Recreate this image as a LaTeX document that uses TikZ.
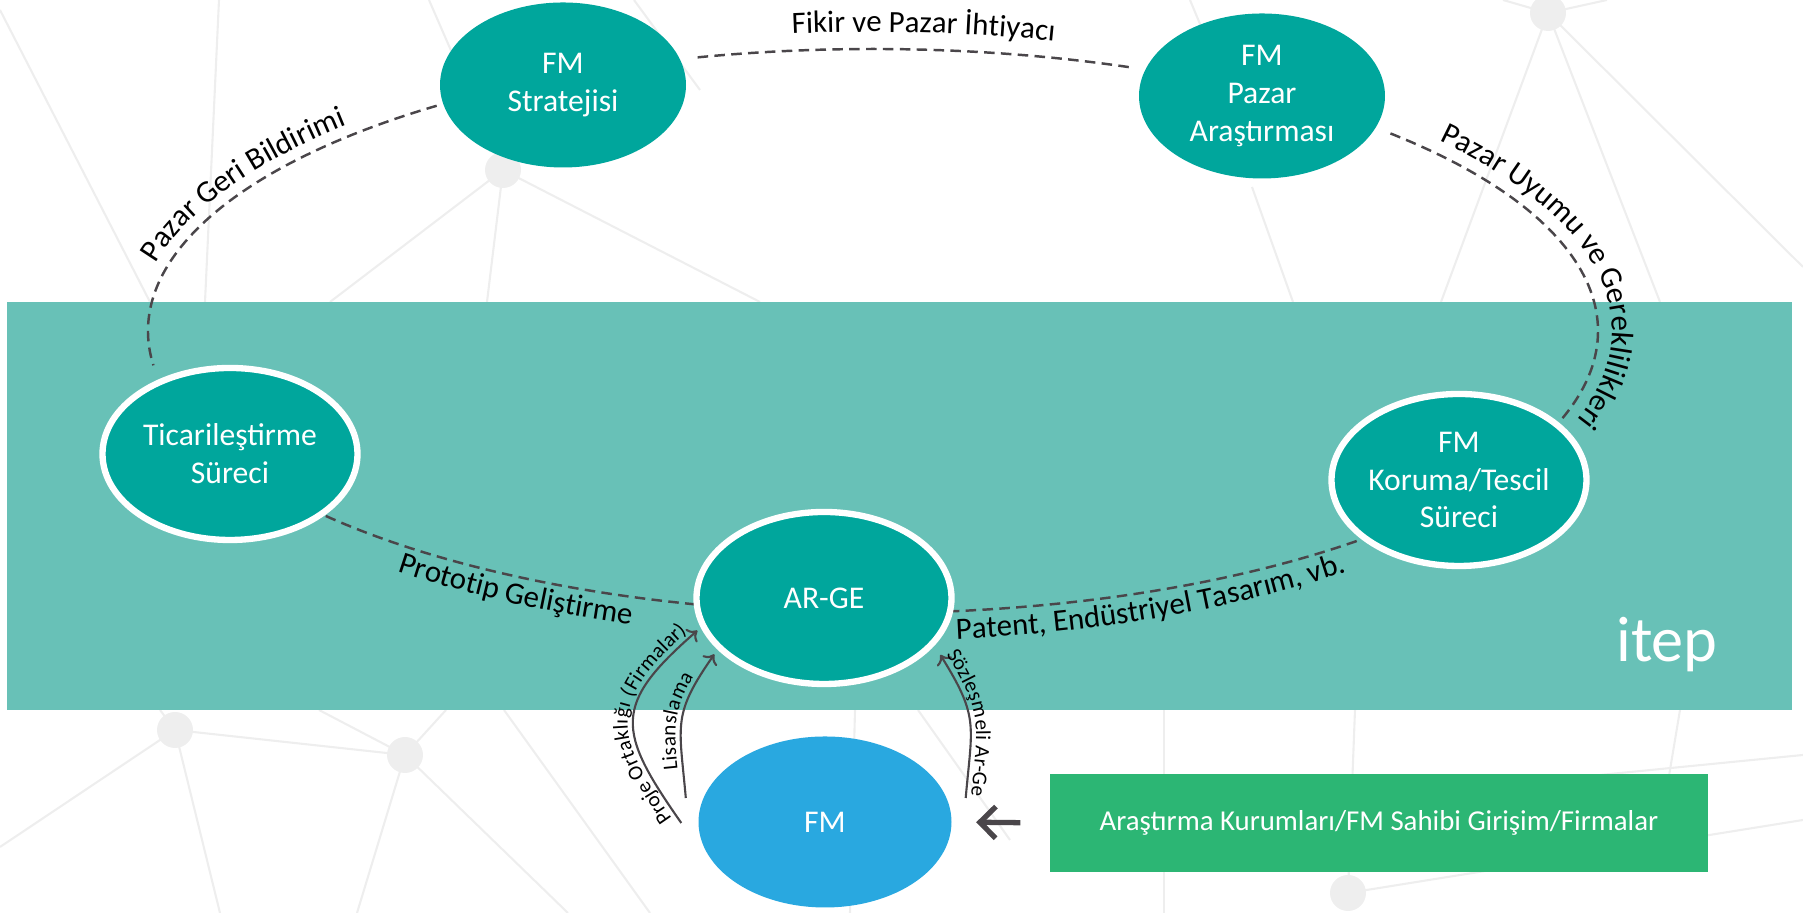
\documentclass[tikz,border=0pt]{standalone}
\usepackage{fontspec}
\setmainfont{Carlito}
\usetikzlibrary{shapes.geometric, arrows.meta, decorations.text}

\definecolor{nodeteal}{RGB}{0,166,156}
\definecolor{bandteal}{RGB}{104,193,183}
\definecolor{fmblue}{RGB}{41,168,224}
\definecolor{boxgreen}{RGB}{44,182,116}
\definecolor{dashgray}{RGB}{74,70,74}
\definecolor{netgray}{RGB}{238,238,238}

\newcommand{\nodefont}{\fontsize{9}{10.8}\selectfont}
\newcommand{\labelfont}{\fontsize{8.8}{10}\selectfont}
\newcommand{\tinyfont}{\fontsize{6}{7}\selectfont}

\tikzstyle{tealnode} = [ellipse, inner sep=-2pt, minimum width=2.46cm, minimum height=1.65cm, align=center, text=white, fill=nodeteal, font=\nodefont]
\tikzstyle{ringnode} = [tealnode, minimum width=2.55cm, minimum height=1.72cm, draw=white, line width=1.8pt]
\tikzstyle{fmnode} = [ellipse, inner sep=0pt, minimum width=2.53cm, minimum height=1.71cm, text=white, fill=fmblue, font=\nodefont]
\tikzstyle{sourcebox} = [rectangle, minimum width=6.58cm, minimum height=0.98cm, text=white, fill=boxgreen, font=\fontsize{8.2}{10}\selectfont]
\tikzstyle{loopline} = [draw=dashgray, line width=0.7pt, dash pattern=on 3pt off 1.8pt]
\tikzstyle{arrow} = [draw=dashgray, line width=0.6pt, -{To[length=2.5pt,width=5pt]}]
\tikzstyle{bigarrow} = [draw=dashgray, line width=1.5pt, -{Straight Barb[length=4.5pt,width=9pt]}]
\tikzstyle{net} = [draw=netgray, line width=0.6pt]

\begin{document}
\begin{tikzpicture}
\useasboundingbox (0,0) rectangle (18.03,9.13);

% Background - network lines
\coordinate (netA) at (5.03,7.43);
\coordinate (netB) at (15.48,9.00);
\coordinate (netC) at (13.48,0.20);
\coordinate (netD) at (1.75,1.83);
\coordinate (netE) at (4.05,1.58);
\draw[net] (0,9.03) -- (1.50,6.11);
\draw[net] (2.19,9.13) -- (2.05,6.11);
\draw[net] (4.29,9.13) -- (netA);
\draw[net] (netA) -- (3.30,6.11);
\draw[net] (netA) -- (4.87,6.11);
\draw[net] (netA) -- (7.60,6.11);
\draw[net] (6.34,9.13) -- (7.00,8.23);
\draw[net] (12.52,7.26) -- (12.93,6.11);
\draw[net] (11.90,9.13) -- (12.15,8.53);
\draw[net] (netB) -- (14.41,6.11);
\draw[net] (netB) -- (16.60,6.11);
\draw[net] (netB) -- (18.03,6.46);
\draw[net] (netB) -- (15.03,9.13);
\draw[net] (netB) -- (16.07,9.13);
\draw[net] (netD) -- (0,0.66);
\draw[net] (netD) -- (2.20,0);
\draw[net] (netD) -- (netE);
\draw[net] (netD) -- (1.60,2.03);
\draw[net] (netE) -- (4.46,2.03);
\draw[net] (3.19,2.03) -- (netE);
\draw[net] (netE) -- (3.57,0);
\draw[net] (netE) -- (5.68,0);
\draw[net] (5.04,2.03) -- (6.50,0);
\draw[net] (8.55,2.03) -- (8.50,0);
\draw[net] (9.18,2.03) -- (10.10,0.73);
\draw[net] (11.64,2.03) -- (11.64,0);
\draw[net] (netC) -- (13.55,2.03);
\draw[net] (netC) -- (18.03,0.93);
\draw[net] (16.80,2.03) -- (16.65,1.13);
\draw[net] (16.00,1.38) -- (18.03,1.58);
\foreach \p in {netA,netB,netC,netD,netE}
  \fill[netgray] (\p) circle (0.18);

% Band - itep
\fill[bandteal] (0.07,2.03) rectangle (17.92,6.11);
\node[text=white, font=\fontsize{18.3}{20}\selectfont, anchor=base] (itep) at (16.67,2.51) {itep};

% Loop - dashed ring behind the nodes
\coordinate (loopc) at (8.73,5.82);
\draw[loopline] (loopc) ++(104:7.25 and 2.82) arc[start angle=104, end angle=69, x radius=7.25, y radius=2.82];
\draw[loopline] (loopc) ++(127:7.25 and 2.82) arc[start angle=127, end angle=187, x radius=7.25, y radius=2.82];
\draw[loopline] (loopc) ++(221:7.25 and 2.82) arc[start angle=221, end angle=256, x radius=7.25, y radius=2.82];
\draw[loopline] (loopc) ++(276:7.25 and 2.82) arc[start angle=276, end angle=312, x radius=7.25, y radius=2.82];
\draw[loopline] (loopc) ++(-18:7.25 and 2.82) arc[start angle=-18, end angle=45, x radius=7.25, y radius=2.82];

% Loop - labels
\path[decorate, decoration={text along path, text align=center, text={|\labelfont|Fikir ve Pazar İhtiyacı}}] (loopc) ++(100:7.42 and 2.99) arc[start angle=100, end angle=72, x radius=7.42, y radius=2.99];
\path[decorate, decoration={text along path, text align=center, text={|\labelfont|Pazar Geri Bildirimi}}] (loopc) ++(175:7.37 and 2.94) arc[start angle=175, end angle=131, x radius=7.37, y radius=2.94];
\path[decorate, decoration={text along path, text={|\labelfont|Pazar Uyumu ve Gereklilikleri}}] (loopc) ++(40:7.39 and 2.96) arc[start angle=40, end angle=-40, x radius=7.39, y radius=2.96];
\path[decorate, decoration={text along path, text align=center, text={|\labelfont|Prototip Geliştirme}}] (loopc) ++(225:7.52 and 3.10) arc[start angle=225, end angle=256, x radius=7.52, y radius=3.10];
\path[decorate, decoration={text along path, text align=center, text={|\labelfont|Patent, Endüstriyel Tasarım, vb.}}] (loopc) ++(274:7.52 and 3.10) arc[start angle=274, end angle=312, x radius=7.52, y radius=3.10];

% Row 1 - FM strategy and market research
\node (strat) [tealnode] at (5.63,8.28) {FM\\Stratejisi};
\node (pazar) [tealnode] at (12.62,8.17) {FM\\Pazar\\Araştırması};

% Row 2 - inside the itep band
\node (ticari) [ringnode] at (2.30,4.59) {Ticarileştirme\\Süreci};
\node (koruma) [ringnode] at (14.59,4.33) {FM\\Koruma/Tescil\\Süreci};
\node (arge) [ringnode] at (8.24,3.15) {AR-GE};

% Row 3 - FM and its sources
\node (fm) [fmnode] at (8.25,0.91) {FM};
\node (box) [sourcebox] at (13.79,0.90) {Araştırma Kurumları/FM Sahibi Girişim/Firmalar};

% Arrows - FM to AR-GE
\draw[arrow, postaction={decorate, decoration={text along path, text align=center, raise=1.5pt, text={|\tinyfont|Proje Ortaklığı (Firmalar)}}}] ([shift={(-0.165,-0.01)}]fm.west) to[out=125, in=221, looseness=1.5] ([shift={(-0.05,0)}]arge.195);
\draw[arrow, postaction={decorate, decoration={text along path, text align=center, raise=1.5pt, text={|\tinyfont|Lisanslama}}}] ([shift={(-0.12,0.24)}]fm.west) to[out=95, in=235, looseness=1.3] ([shift={(-0.05,-0.03)}]arge.207);
\draw[arrow] ([shift={(0.135,0.24)}]fm.east) to[out=85, in=302, looseness=1.3] ([shift={(0.1,-0.05)}]arge.334);
\path[decorate, decoration={text along path, text align=center, raise=1.5pt, text={|\tinyfont|Sözleşmeli Ar-Ge}}] ([shift={(0.1,-0.05)}]arge.334) to[out=302, in=85, looseness=1.3] ([shift={(0.135,0.24)}]fm.east);

\draw[bigarrow, shorten <=0.29cm, shorten >=0.24cm] (box.west) -- (fm.east);

\end{tikzpicture}
\end{document}
